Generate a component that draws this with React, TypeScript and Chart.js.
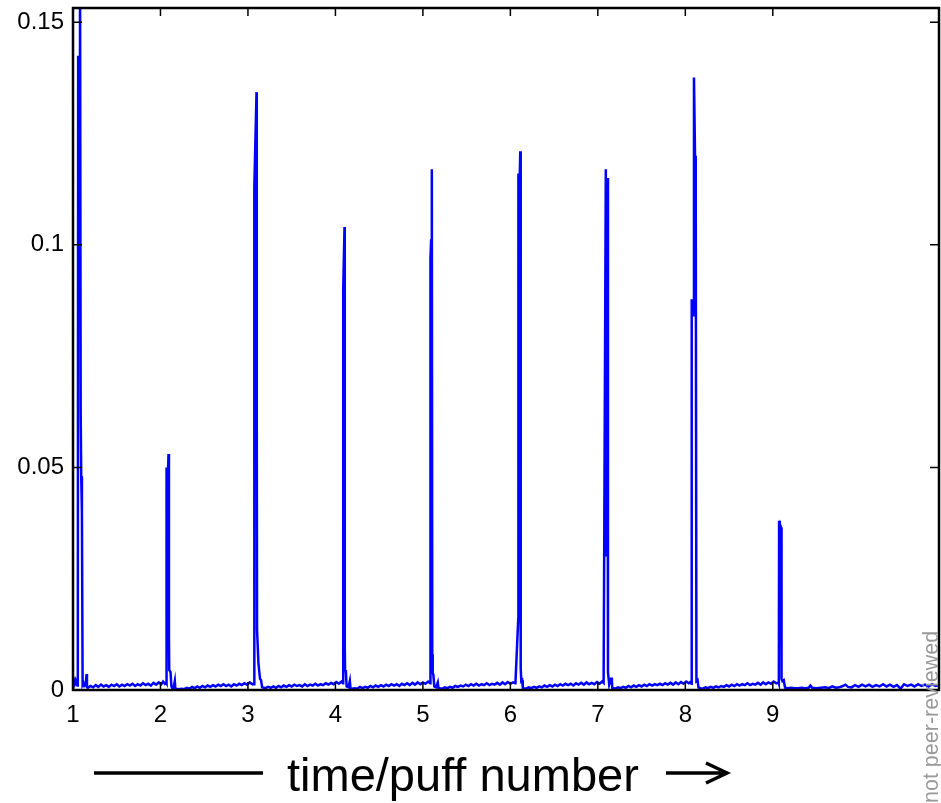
import React, { useEffect, useRef } from "react";
import { Chart, registerables } from "chart.js";

Chart.register(...registerables);

// [time/puff number, signal]
const puff1: number[][] = [[1.0,0.0016],[1.01,0.0022],[1.02,0.0014],[1.03,0.0021],[1.04,0.0013],[1.05,0.001],[1.055,0.0012],[1.059,0.1425],[1.066,0.128],[1.072,0.12],[1.08,0.17],[1.088,0.062],[1.094,0.048],[1.102,0.04],[1.11,0.0012],[1.12,0.0016],[1.13,0.0009],[1.145,0.0011],[1.155,0.0036],[1.16,0.0006]];
const gap1: number[][] = [[1.17,0.0005],[1.2,0.0009],[1.23,0.0006],[1.26,0.0011],[1.29,0.0007],[1.32,0.0012],[1.35,0.0008],[1.38,0.0011],[1.41,0.0007],[1.44,0.0012],[1.47,0.0009],[1.5,0.0013],[1.53,0.0008],[1.56,0.0012],[1.59,0.0009],[1.62,0.0013],[1.65,0.001],[1.68,0.0014],[1.71,0.0009],[1.74,0.0013],[1.77,0.001],[1.8,0.0015],[1.83,0.0011],[1.86,0.0014],[1.89,0.001],[1.92,0.0016],[1.95,0.0012],[1.98,0.0017],[2.01,0.0013],[2.03,0.0019],[2.05,0.0014],[2.064,0.0017]];
const puff2: number[][] = [[2.068,0.0015],[2.071,0.05],[2.082,0.047],[2.092,0.053],[2.097,0.012],[2.1,0.0045],[2.115,0.004],[2.125,0.0008],[2.135,0.0004],[2.15,0.0005],[2.164,0.002],[2.17,0.0003]];
const gap2: number[][] = [[2.18,0.0003],[2.21,0.0002],[2.24,0.0003],[2.27,0.0002],[2.3,0.0005],[2.33,0.0003],[2.36,0.0007],[2.39,0.0004],[2.42,0.0008],[2.45,0.0005],[2.48,0.0009],[2.51,0.0006],[2.54,0.001],[2.57,0.0007],[2.6,0.0011],[2.63,0.0008],[2.66,0.0012],[2.69,0.0009],[2.72,0.0013],[2.75,0.0009],[2.78,0.0012],[2.81,0.0008],[2.84,0.0013],[2.87,0.001],[2.9,0.0014],[2.93,0.0011],[2.96,0.0015],[2.99,0.0012],[3.02,0.0017],[3.05,0.0013],[3.068,0.0015]];
const puff3: number[][] = [[3.071,0.0013],[3.073,0.113],[3.098,0.1343],[3.101,0.06],[3.104,0.0135],[3.12,0.006],[3.138,0.0025],[3.15,0.0022],[3.158,0.0022],[3.162,0.0006]];
const gap3: number[][] = [[3.17,0.0006],[3.2,0.0004],[3.23,0.0007],[3.26,0.0005],[3.29,0.0008],[3.32,0.0005],[3.35,0.0009],[3.38,0.0006],[3.41,0.001],[3.44,0.0007],[3.47,0.0011],[3.5,0.0008],[3.53,0.0012],[3.56,0.0009],[3.59,0.0011],[3.62,0.0008],[3.65,0.0013],[3.68,0.0009],[3.71,0.0012],[3.74,0.001],[3.77,0.0014],[3.8,0.001],[3.83,0.0013],[3.86,0.0011],[3.89,0.0015],[3.92,0.0012],[3.95,0.0016],[3.98,0.0013],[4.01,0.0018],[4.04,0.0014],[4.07,0.0019],[4.085,0.0015]];
const puff4: number[][] = [[4.087,0.0015],[4.089,0.09],[4.104,0.104],[4.107,0.01],[4.11,0.0045],[4.12,0.004],[4.128,0.0008],[4.15,0.0006],[4.165,0.002],[4.172,0.0004]];
const gap4: number[][] = [[4.19,0.0003],[4.22,0.0004],[4.25,0.0003],[4.28,0.0007],[4.31,0.0004],[4.34,0.0007],[4.37,0.0005],[4.4,0.0009],[4.43,0.0006],[4.46,0.001],[4.49,0.0007],[4.52,0.0011],[4.55,0.0008],[4.58,0.0012],[4.61,0.0009],[4.64,0.0013],[4.67,0.001],[4.7,0.0013],[4.73,0.0009],[4.76,0.0014],[4.79,0.0011],[4.82,0.0015],[4.85,0.0011],[4.88,0.0016],[4.91,0.0012],[4.94,0.0017],[4.97,0.0013],[5.0,0.0017],[5.03,0.0014],[5.06,0.0019],[5.083,0.0015]];
const puff5: number[][] = [[5.085,0.0015],[5.088,0.097],[5.094,0.101],[5.102,0.117],[5.107,0.008],[5.112,0.0038],[5.12,0.0034],[5.13,0.0008],[5.15,0.0006],[5.17,0.0017],[5.178,0.0004]];
const gap5: number[][] = [[5.19,0.0004],[5.22,0.0003],[5.25,0.0006],[5.28,0.0004],[5.31,0.0007],[5.34,0.0005],[5.37,0.0009],[5.4,0.0007],[5.43,0.001],[5.46,0.0008],[5.49,0.0012],[5.52,0.0009],[5.55,0.0013],[5.58,0.001],[5.61,0.0014],[5.64,0.001],[5.67,0.0013],[5.7,0.0011],[5.73,0.0015],[5.76,0.0011],[5.79,0.0014],[5.82,0.0012],[5.85,0.0016],[5.88,0.0012],[5.91,0.0017],[5.94,0.0013],[5.97,0.0018],[6.0,0.0014],[6.03,0.0017],[6.055,0.0015]];
const puff6: number[][] = [[6.058,0.0016],[6.09,0.016],[6.092,0.116],[6.102,0.11],[6.113,0.121],[6.118,0.005],[6.125,0.002],[6.135,0.0022],[6.142,0.0005]];
const gap6: number[][] = [[6.15,0.0004],[6.18,0.0003],[6.21,0.0006],[6.24,0.0004],[6.27,0.0007],[6.3,0.0005],[6.33,0.0008],[6.36,0.0006],[6.39,0.001],[6.42,0.0007],[6.45,0.0011],[6.48,0.0008],[6.51,0.0012],[6.54,0.0009],[6.57,0.0013],[6.6,0.001],[6.63,0.0014],[6.66,0.0011],[6.69,0.0014],[6.72,0.001],[6.75,0.0015],[6.78,0.0012],[6.81,0.0016],[6.84,0.0012],[6.87,0.0017],[6.9,0.0013],[6.93,0.0016],[6.96,0.0013],[6.99,0.0018],[7.02,0.0014],[7.05,0.0019],[7.066,0.0016]];
const puff7: number[][] = [[7.068,0.0016],[7.075,0.042],[7.091,0.117],[7.1,0.03],[7.109,0.115],[7.116,0.004],[7.13,0.0012],[7.15,0.0025],[7.16,0.0025],[7.165,0.0005]];
const gap7: number[][] = [[7.17,0.0005],[7.2,0.0003],[7.23,0.0006],[7.26,0.0004],[7.29,0.0007],[7.32,0.0005],[7.35,0.0009],[7.38,0.0006],[7.41,0.001],[7.44,0.0007],[7.47,0.0011],[7.5,0.0008],[7.53,0.0012],[7.56,0.0009],[7.59,0.0013],[7.62,0.001],[7.65,0.0013],[7.68,0.0011],[7.71,0.0014],[7.74,0.0011],[7.77,0.0015],[7.8,0.0012],[7.83,0.0016],[7.86,0.0012],[7.89,0.0017],[7.92,0.0013],[7.95,0.0018],[7.98,0.0014],[8.01,0.0019],[8.04,0.0015],[8.06,0.0018],[8.071,0.0014]];
const puff8: number[][] = [[8.073,0.0878],[8.082,0.085],[8.088,0.0842],[8.099,0.1376],[8.111,0.12],[8.119,0.113],[8.127,0.002],[8.14,0.0022],[8.15,0.0006]];
const gap8: number[][] = [[8.17,0.0004],[8.2,0.0003],[8.23,0.0006],[8.26,0.0004],[8.29,0.0007],[8.32,0.0005],[8.35,0.0008],[8.38,0.0006],[8.41,0.0009],[8.44,0.0007],[8.47,0.0011],[8.5,0.0008],[8.53,0.0012],[8.56,0.0009],[8.59,0.0013],[8.62,0.001],[8.65,0.0013],[8.68,0.0011],[8.71,0.0015],[8.74,0.0011],[8.77,0.0014],[8.8,0.0012],[8.83,0.0016],[8.86,0.0012],[8.89,0.0017],[8.92,0.0013],[8.95,0.0017],[8.98,0.0014],[9.01,0.0019],[9.04,0.0015],[9.066,0.0017]];
const puff9: number[][] = [[9.069,0.0015],[9.072,0.038],[9.08,0.036],[9.086,0.037],[9.094,0.0365],[9.1,0.0025],[9.11,0.002],[9.125,0.0022],[9.14,0.0005]];
const tail: number[][] = [[9.17,0.0004],[9.21,0.0005],[9.25,0.0004],[9.29,0.0004],[9.33,0.0005],[9.37,0.0004],[9.41,0.0005],[9.43,0.001],[9.45,0.0005],[9.5,0.0004],[9.55,0.0005],[9.6,0.0006],[9.64,0.0004],[9.68,0.0008],[9.72,0.0005],[9.76,0.0006],[9.8,0.0009],[9.83,0.0012],[9.86,0.0007],[9.9,0.0006],[9.94,0.0011],[9.98,0.0007],[10.02,0.0012],[10.06,0.0008],[10.1,0.0012],[10.14,0.0007],[10.18,0.0011],[10.22,0.0008],[10.26,0.0013],[10.3,0.0008],[10.34,0.0012],[10.38,0.0007],[10.42,0.0011],[10.46,0.0003],[10.5,0.0013],[10.54,0.0009],[10.58,0.0012],[10.62,0.0008],[10.66,0.0013],[10.7,0.0009],[10.74,0.0012],[10.78,0.0008],[10.82,0.0013],[10.86,0.0009],[10.9,0.0011]];

const xTicks = [1, 2, 3, 4, 5, 6, 7, 8, 9];
const yTicks = [0, 0.05, 0.1, 0.15];
const yTickLabels = ["0", "0.05", "0.1", "0.15"];
const xTitle = "time/puff number";
const watermark = "not peer-reviewed";

const FONT = '"Liberation Sans", Arial, Helvetica, sans-serif';

export default function App() {
  const ref = useRef<HTMLCanvasElement | null>(null);

  useEffect(() => {
    const canvas = ref.current;
    if (!canvas) return;
    const series = [
      ...puff1, ...gap1, ...puff2, ...gap2, ...puff3, ...gap3, ...puff4, ...gap4,
      ...puff5, ...gap5, ...puff6, ...gap6, ...puff7, ...gap7, ...puff8, ...gap8,
      ...puff9, ...tail,
    ].map(([x, y]) => ({ x, y }));

    const frame = {
      id: "frame",
      afterDatasetsDraw(chart: any) {
        const { ctx, chartArea, scales } = chart;
        const { left, right, top, bottom } = chartArea;
        ctx.save();
        ctx.strokeStyle = "#000";
        ctx.lineWidth = 1.5;
        ctx.beginPath();
        for (const v of xTicks) {
          const px = scales.x.getPixelForValue(v);
          ctx.moveTo(px, bottom);
          ctx.lineTo(px, bottom - 8);
          ctx.moveTo(px, top);
          ctx.lineTo(px, top + 8);
        }
        for (const v of yTicks) {
          const py = scales.y.getPixelForValue(v);
          ctx.moveTo(left, py);
          ctx.lineTo(left + 9, py);
          ctx.moveTo(right, py);
          ctx.lineTo(right - 9, py);
        }
        ctx.stroke();
        ctx.lineWidth = 2.5;
        ctx.strokeRect(left, top, right - left, bottom - top);
        ctx.restore();
      },
      afterDraw(chart: any) {
        const { ctx } = chart;
        ctx.save();
        ctx.fillStyle = "#000";
        ctx.font = `47px ${FONT}`;
        ctx.textAlign = "left";
        ctx.textBaseline = "alphabetic";
        ctx.fillText(xTitle, 287, 791);
        ctx.strokeStyle = "#000";
        ctx.lineWidth = 3.5;
        ctx.beginPath();
        ctx.moveTo(94, 773);
        ctx.lineTo(263, 773);
        ctx.moveTo(666, 773);
        ctx.lineTo(726, 773);
        ctx.moveTo(706, 763);
        ctx.lineTo(727, 773);
        ctx.lineTo(706, 783);
        ctx.stroke();
        ctx.translate(938, 803);
        ctx.rotate(-Math.PI / 2);
        ctx.fillStyle = "#999999";
        ctx.font = `21.5px ${FONT}`;
        ctx.textAlign = "left";
        ctx.textBaseline = "alphabetic";
        ctx.fillText(watermark, 0, 0);
        ctx.restore();
      },
    };

    const chart = new Chart(canvas, {
      type: "line",
      data: {
        datasets: [
          {
            data: series,
            borderColor: "#0000ff",
            borderWidth: 2.5,
            pointRadius: 0,
            tension: 0,
            fill: false,
          },
        ],
      },
      options: {
        animation: false,
        responsive: false,
        devicePixelRatio: 1,
        layout: { padding: { top: 8, right: 2, left: 0, bottom: 0 } },
        plugins: { legend: { display: false }, tooltip: { enabled: false } },
        scales: {
          x: {
            type: "linear",
            min: 1,
            max: 10.9,
            afterBuildTicks: (s: any) => {
              s.ticks = xTicks.map((v) => ({ value: v }));
            },
            afterFit: (s: any) => {
              s.height = 113;
              s.paddingLeft = 0;
              s.paddingRight = 0;
            },
            grid: { display: false, drawTicks: false },
            border: { display: false },
            ticks: {
              padding: 11,
              color: "#000",
              font: { family: FONT, size: 24 },
              maxRotation: 0,
              autoSkip: false,
              callback: (v: any) => String(v),
            },
          },
          y: {
            type: "linear",
            min: 0,
            max: 0.1532,
            afterBuildTicks: (s: any) => {
              s.ticks = yTicks.map((v) => ({ value: v }));
            },
            afterFit: (s: any) => {
              s.width = 73;
              s.paddingTop = 0;
              s.paddingBottom = 0;
            },
            grid: { display: false, drawTicks: false },
            border: { display: false },
            ticks: {
              padding: 9,
              color: "#000",
              font: { family: FONT, size: 24 },
              autoSkip: false,
              callback: (v: any) => {
                const i = yTicks.indexOf(v);
                return i >= 0 ? yTickLabels[i] : "";
              },
            },
          },
        },
      },
      plugins: [frame],
    });
    return () => chart.destroy();
  }, []);

  return (
    <div style={{ position: "fixed", left: 0, top: 0, width: 941, height: 803, background: "#fff" }}>
      <canvas ref={ref} width={941} height={803} style={{ display: "block", width: 941, height: 803 }} />
    </div>
  );
}
